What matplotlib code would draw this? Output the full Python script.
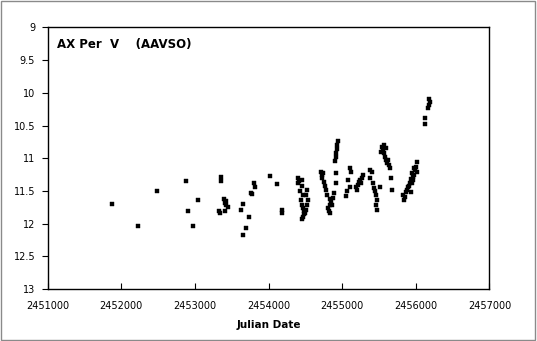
import matplotlib
matplotlib.use("Agg")
import matplotlib.pyplot as plt
from matplotlib.patches import Rectangle

# Julian Date and V magnitude
jd = [
    2451873, 2452226, 2452484, 2452878, 2452905, 2452973, 2453041, 2453353, 2453353,
    2453394, 2453408, 2453421, 2453421, 2453448, 2453333, 2453340, 2453408,
    2453652, 2453625, 2453734, 2453693, 2453652, 2453802, 2453815, 2453761, 2453774,
    2454019, 2454114, 2454182, 2454182,
    # cluster near 2454400-2454540
    2454399, 2454399, 2454413, 2454453, 2454453, 2454426, 2454467, 2454440, 2454453,
    2454467, 2454481, 2454481, 2454467, 2454453, 2454508, 2454521, 2454535, 2454521,
    2454508, 2454494,
    # cluster near 2454710-2454890
    2454711, 2454725, 2454725, 2454738, 2454752, 2454766, 2454779, 2454793, 2454834,
    2454847, 2454834, 2454806, 2454820, 2454834, 2454861, 2454874, 2454888,
    # rise near 2454930
    2454942, 2454929, 2454929, 2454915, 2454915, 2454902, 2454915, 2454915,
    # 2455050-2455120
    2455105, 2455119, 2455078, 2455105, 2455064, 2455051,
    # 2455190-2455280
    2455187, 2455200, 2455214, 2455228, 2455241, 2455255, 2455268, 2455282,
    # 2455370-2455510
    2455377, 2455404, 2455377, 2455418, 2455431, 2455445, 2455458, 2455472, 2455458,
    2455472, 2455513,
    # peak near 2455550
    2455540, 2455553, 2455567, 2455526, 2455567, 2455594, 2455580, 2455594, 2455608,
    2455621, 2455635, 2455648, 2455662, 2455676,
    # branch near 2456000
    2455838, 2455852, 2455865, 2455879, 2455893, 2455906, 2455934, 2455947, 2455961,
    2455947, 2455961, 2455974, 2455988, 2456002, 2456015, 2456015, 2455920, 2455934,
    2455974, 2455825,
    # latest points
    2456178, 2456191, 2456178, 2456164, 2456124, 2456124,
]
mag = [
    11.70, 12.04, 11.50, 11.35, 11.81, 12.04, 11.64, 11.29, 11.35,
    11.63, 11.69, 11.72, 11.66, 11.75, 11.81, 11.84, 11.81,
    11.70, 11.79, 11.90, 12.07, 12.18, 11.38, 11.44, 11.53, 11.55,
    11.27, 11.40, 11.79, 11.84,
    11.30, 11.38, 11.35, 11.33, 11.43, 11.50, 11.56, 11.64, 11.72,
    11.76, 11.81, 11.86, 11.90, 11.93, 11.56, 11.49, 11.64, 11.72,
    11.79, 11.84,
    11.21, 11.26, 11.30, 11.23, 11.37, 11.43, 11.49, 11.56, 11.63,
    11.67, 11.72, 11.76, 11.81, 11.84, 11.72, 11.61, 11.53,
    10.74, 10.80, 10.86, 10.92, 10.98, 11.04, 11.23, 11.38,
    11.15, 11.21, 11.34, 11.44, 11.50, 11.58,
    11.44, 11.49, 11.41, 11.37, 11.33, 11.38, 11.30, 11.26,
    11.18, 11.21, 11.30, 11.38, 11.46, 11.50, 11.56, 11.64, 11.72,
    11.79, 11.44,
    10.83, 10.88, 10.92, 10.91, 10.80, 10.85, 10.98, 11.03, 11.07,
    11.03, 11.11, 11.15, 11.30, 11.49,
    11.64, 11.60, 11.52, 11.49, 11.44, 11.43, 11.52, 11.38, 11.33,
    11.23, 11.29, 11.26, 11.18, 11.14, 11.06, 11.21, 11.38, 11.32,
    11.15, 11.56,
    10.09, 10.14, 10.19, 10.23, 10.39, 10.48,
]

x_ticks = [2451000, 2452000, 2453000, 2454000, 2455000, 2456000, 2457000]
y_ticks = [9, 9.5, 10, 10.5, 11, 11.5, 12, 12.5, 13]
y_labels = ["9", "9.5", "10", "10.5", "11", "11.5", "12", "12.5", "13"]

fig = plt.figure(figsize=(5.37, 3.41), dpi=100)
fig.patch.set_facecolor("white")
fig.add_artist(Rectangle((0.002, 0.003), 0.995, 0.993, transform=fig.transFigure,
                         fill=False, edgecolor="#8a8a8a", linewidth=1.0))

ax = fig.add_axes([0.0888, 0.1525, 0.8227, 0.767])
ax.plot(jd, mag, linestyle="none", marker="s", markersize=2.3,
        markerfacecolor="black", markeredgecolor="black", markeredgewidth=0.3)

ax.set_xlim(2451000, 2457000)
ax.set_ylim(13, 9)
ax.set_xticks(x_ticks)
ax.set_xticklabels([str(v) for v in x_ticks])
ax.set_yticks(y_ticks)
ax.set_yticklabels(y_labels)

for s in ax.spines.values():
    s.set_linewidth(1.0)
    s.set_color("black")

ax.tick_params(axis="x", direction="in", length=4, width=0.8, pad=9,
               labelsize=7, colors="black")
ax.tick_params(axis="y", direction="out", length=4, width=0.8, pad=5,
               labelsize=7, colors="black")
ax.tick_params(top=False, right=False)

ax.text(0.021, 0.935, "AX Per  V    (AAVSO)", transform=ax.transAxes,
        fontsize=8.5, fontweight="bold", ha="left", va="center")
ax.set_xlabel("Julian Date", fontsize=7.5, fontweight="bold", labelpad=6)

fig.savefig("out.png", dpi=100)
